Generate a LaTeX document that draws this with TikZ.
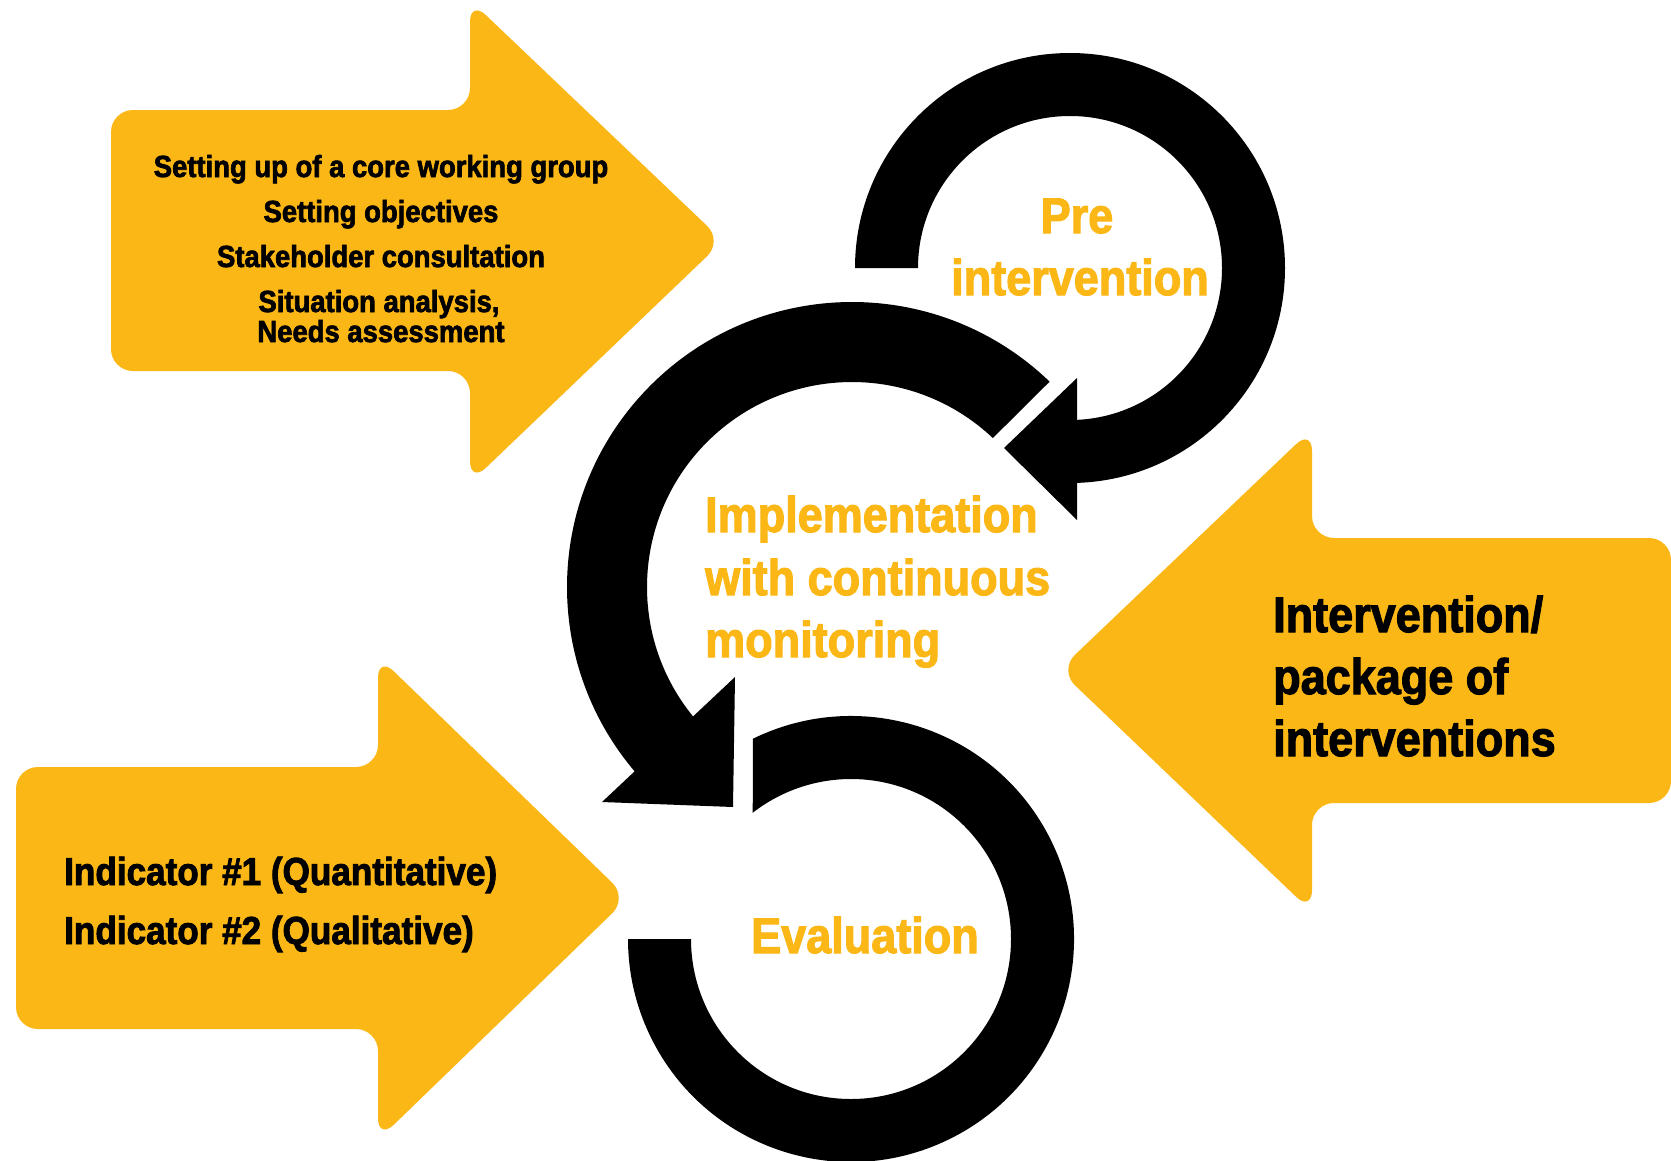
\documentclass[tikz,border=0pt]{standalone}
\usepackage{fontspec}
\newfontfamily\cf[FakeStretch=0.9,BoldFeatures={FakeBold=2.2}]{Liberation Sans}
\usetikzlibrary{calc}
\definecolor{yel}{RGB}{251,183,21}
\begin{document}
\begin{tikzpicture}[x=1pt,y=-1pt,
  yarrow/.style={fill=yel, rounded corners=22pt},
  ringfill/.style={fill=black},
  headfill/.style={fill=black},
  txt/.style={inner sep=0pt, font=\cf\bfseries},
  tltxt/.style={txt, font=\cf\bfseries\fontsize{30.5}{36}\selectfont, anchor=base},
  bigy/.style={txt, text=yel, font=\cf\bfseries\fontsize{50}{58}\selectfont},
  bigk/.style={txt, text=black, font=\cf\bfseries\fontsize{50}{58}\selectfont, anchor=base west},
  indk/.style={txt, text=black, font=\cf\bfseries\fontsize{39}{46}\selectfont, anchor=base west}]
\useasboundingbox (0,0) rectangle (1671,1160);
\fill[white] (0,0) rectangle (1671,1160);

% yellow block arrows
\fill[yarrow] (111,240) -- (111,110) -- (470,110) -- (470,0) -- (723,241) -- (470,483) -- (470,371) -- (111,371) -- cycle;
\fill[yarrow] (16,898) -- (16,767) -- (378,767) -- (378,656) -- (628,898) -- (378,1140) -- (378,1029) -- (16,1029) -- cycle;
\fill[yarrow] (1671,670) -- (1671,538) -- (1312,538) -- (1312,429) -- (1059,670) -- (1312,912) -- (1312,803) -- (1671,803) -- cycle;

% centres of the three rings
\coordinate (topc) at (1070,268);
\coordinate (midc) at (852,587);
\coordinate (botc) at (851,939);

% top ring (Pre intervention)
\fill[ringfill] ($(topc)+(180:215)$) arc[start angle=180, end angle=450, radius=215]
  -- ($(topc)+(90:152)$) arc[start angle=450, end angle=180, radius=152] -- cycle;
\coordinate (ta) at (1077,378);
\coordinate (tb) at (1077,520);
\coordinate (tt) at (1004,448);
\fill[headfill] (ta) -- (tb) -- (tt) -- cycle;

% middle ring (Implementation)
\fill[ringfill] ($(midc)+(-46.1:285)$) arc[start angle=-46.1, end angle=-222, radius=285]
  -- ($(midc)+(-222:205)$) arc[start angle=-222, end angle=-46.6, radius=205] -- cycle;
\coordinate (ma) at (735,677);
\coordinate (mt) at (733,807);
\coordinate (mc) at (602,802);
\fill[headfill] (ma) -- (mt) -- (mc) -- cycle;

% bottom ring (Evaluation)
\fill[ringfill] ($(botc)+(243.9:223)$) arc[start angle=243.9, end angle=540, radius=223]
  -- ($(botc)+(180:160)$) arc[start angle=540, end angle=232.1, radius=160] -- cycle;

% texts in the top-left arrow
\node[tltxt] (tl1) at (381,177) {Setting up of a core working group};
\node[tltxt] (tl2) at (381,222) {Setting objectives};
\node[tltxt] (tl3) at (381,267) {Stakeholder consultation};
\node[tltxt] (tl4) at (379,312) {Situation analysis,};
\node[tltxt] (tl5) at (381,342) {Needs assessment};

% ring labels
\node[bigy, anchor=base] (pre1) at (1077,233) {Pre};
\node[bigy, anchor=base] (pre2) at (1080,295) {intervention};
\node[bigy, anchor=base west] (imp1) at (705,532) {Implementation};
\node[bigy, anchor=base west] (imp2) at (705,595) {with continuous};
\node[bigy, anchor=base west] (imp3) at (705,657) {monitoring};
\node[bigy, anchor=base west] (eva) at (751,953) {Evaluation};

% right arrow text
\node[bigk] (iv1) at (1273,632) {Intervention/};
\node[bigk] (iv2) at (1273,694) {package of};
\node[bigk] (iv3) at (1273,756) {interventions};

% bottom-left arrow text
\node[indk] (ind1) at (64,885) {Indicator \#1 (Quantitative)};
\node[indk] (ind2) at (64,944) {Indicator \#2 (Qualitative)};
\end{tikzpicture}
\end{document}
